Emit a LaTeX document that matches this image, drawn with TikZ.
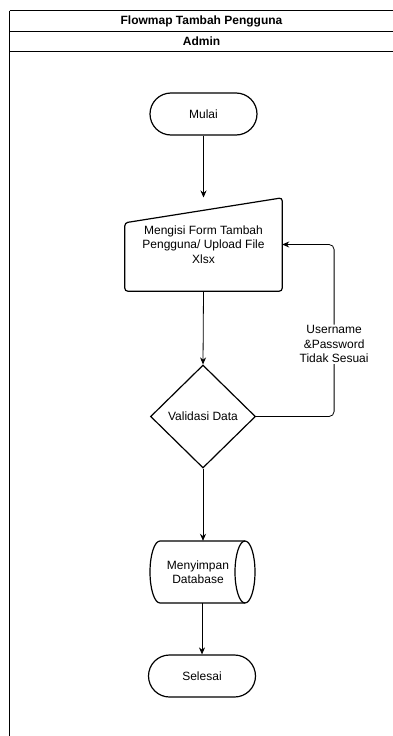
\documentclass[tikz,border=0pt]{standalone}
\usepackage{fontspec}
\setmainfont{Liberation Sans}
\usetikzlibrary{arrows.meta,shapes.geometric,positioning}

\begin{document}
\begin{tikzpicture}[x=1pt,y=-1pt,>={Stealth[length=7pt,width=6pt]},
  font=\fontsize{12}{14.5}\selectfont,
  terminal/.style={draw,line width=1.2pt,rounded corners=21pt,minimum width=107pt,minimum height=42pt},
  decision/.style={draw,line width=1.2pt,diamond,aspect=1,minimum width=105pt,minimum height=103pt,inner sep=0pt},
  flow/.style={->,line width=0.8pt}]
  \useasboundingbox (0,0) rectangle (393,736);
  % Swimlane frame
  \draw[line width=0.9pt] (9.5,10.5) -- (400,10.5);
  \draw[line width=0.9pt] (9.5,31) -- (400,31);
  \draw[line width=0.9pt] (9.5,51.5) -- (400,51.5);
  \draw[line width=0.9pt] (9.5,10.5) -- (9.5,740);
  \node[font=\bfseries\fontsize{12}{14}\selectfont] (judul) at (201.5,21) {Flowmap Tambah Pengguna};
  \node[font=\bfseries\fontsize{12}{14}\selectfont] (admin) at (201.5,41.5) {Admin};
  % Flow
  \node[terminal] (mulai) at (203.5,114) {Mulai};
  \node[minimum width=157pt,minimum height=93pt,align=center] (isi) at (203.5,244.5)
    {Mengisi Form Tambah\\Pengguna/ Upload File\\Xlsx};
  \draw[line width=1.2pt,rounded corners=3pt] (isi.south west) -- ([yshift=-25pt]isi.north west)
    -- (isi.north east) -- (isi.south east) -- cycle;
  \node[decision] (valid) at (203,416.5) {Validasi Data};
  % Database cylinder
  \node[minimum height=62pt,align=center,inner sep=0pt] (simpan) at (198,572) {Menyimpan\\Database};
  \draw[line width=1.2pt] (160,541) arc[start angle=-90,end angle=-270,x radius=10,y radius=31]
    -- (245,603) arc[start angle=90,end angle=-90,x radius=10,y radius=31] -- cycle;
  \draw[line width=1.2pt] (245,541) arc[start angle=-90,end angle=-270,x radius=10,y radius=31];
  \node[terminal] (selesai) at (202,676) {Selesai};
  \draw[flow] (mulai) -- (203.5,197.5);
  \draw[flow] (isi.south) -- (valid.north);
  \draw[flow] (valid.south) -- (simpan.north -| valid.south);
  \draw[flow] (simpan.south -| selesai.north) -- (selesai.north);
  \draw[flow,rounded corners=5pt] (valid.east) -- ++(78,0)
    |- node[pos=0.21,fill=white,align=center,inner sep=1pt] (syarat) {Username\\\&Password\\Tidak Sesuai} (isi.east);
\end{tikzpicture}
\end{document}
